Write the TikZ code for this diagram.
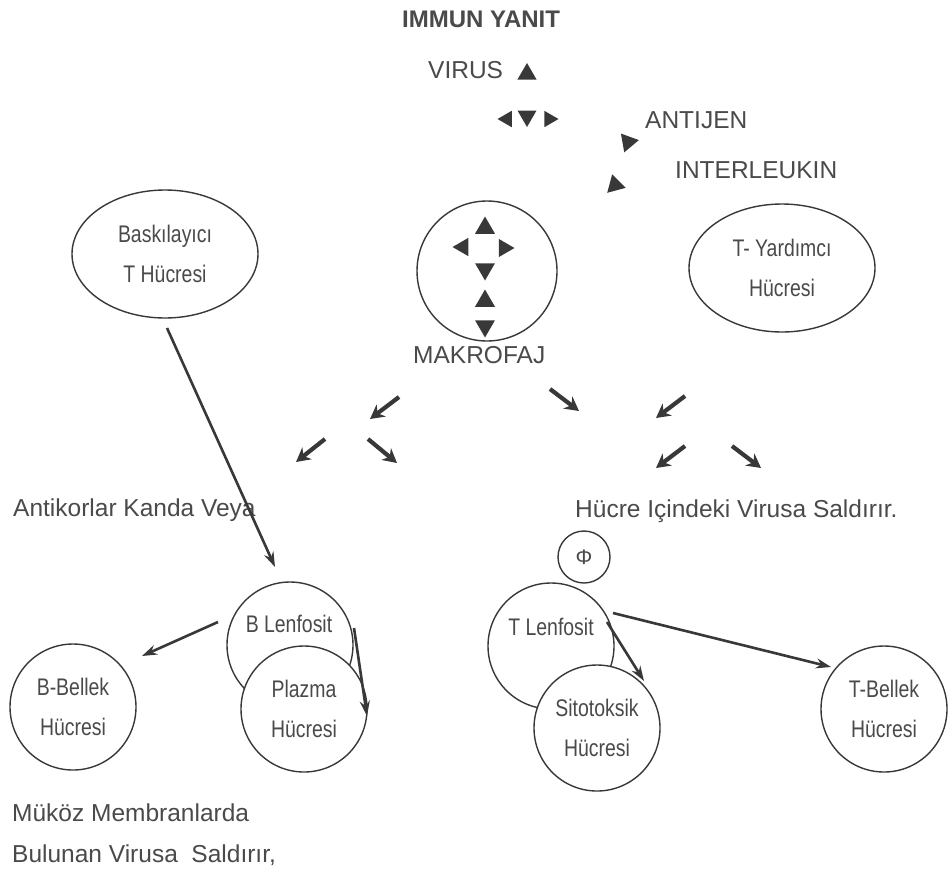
\documentclass[tikz,border=0pt]{standalone}
\usepackage{fontspec}
\setmainfont{Liberation Sans}
\newfontfamily\narrowfont[FakeStretch=0.81]{Liberation Sans}
\usetikzlibrary{shapes.geometric,arrows.meta}
\definecolor{ink}{HTML}{383838}
\definecolor{txt}{HTML}{4A4A4A}
\begin{document}
\begin{tikzpicture}[x=1pt,y=-1pt,
  lbl/.style={text=txt,font=\fontsize{24.5}{28}\selectfont,inner sep=0pt,anchor=base west},
  cell/.style={circle,draw=ink,line width=1.4pt,fill=white,minimum size=126pt,inner sep=0pt,
    text=txt,align=center,font=\narrowfont\fontsize{24}{40}\selectfont},
  oval/.style={ellipse,draw=ink,line width=1.4pt,minimum width=186pt,minimum height=128pt,inner sep=0pt,
    text=txt,align=center,font=\narrowfont\fontsize{24}{40}\selectfont},
  intext/.style={text=txt,inner sep=0pt,font=\narrowfont\fontsize{24}{26}\selectfont},
  tri/.style={regular polygon,regular polygon sides=3,fill=ink,minimum size=22pt,inner sep=0pt},
  sarrow/.style={draw=ink,line width=4.2pt,-{Stealth[length=14pt,width=15pt]}},
  larrow/.style={draw=ink,line width=2.6pt,-{Stealth[length=15pt,width=10pt]}}]
\useasboundingbox[fill=white] (0,0) rectangle (952,881);

% top labels
\node[lbl,font=\bfseries\fontsize{24}{28}\selectfont] (title) at (402,27) {IMMUN YANIT};
\node[lbl] (virus) at (428,78) {VIRUS};
\node[lbl] (antijen) at (645,128) {ANTIJEN};
\node[lbl] (interl) at (675,178) {INTERLEUKIN};

% top triangles
\node[tri] (t1) at (527,74) {};
\node[tri,minimum size=19pt,regular polygon rotate=90] (t2) at (507,119) {};
\node[tri,minimum size=22pt,regular polygon rotate=180] (t3) at (527,116) {};
\node[tri,minimum size=19pt,regular polygon rotate=-90] (t4) at (549,119) {};
\node[tri,regular polygon rotate=160] (t5) at (628,142) {};
\node[tri,regular polygon rotate=-105] (t6) at (615,185) {};

% ellipses
\node[oval] (bask) at (165,254) {Baskılayıcı\\T Hücresi};
\node[oval] (tyard) at (782,268) {T- Yardımcı\\Hücresi};

% makrofaj
\node[circle,draw=ink,line width=1.4pt,minimum size=140pt,inner sep=0pt] (makro) at (487,271) {};
\node[tri,minimum size=23pt] (m1) at (485,228) {};
\node[tri,minimum size=21pt,regular polygon rotate=90] (m2) at (463,247) {};
\node[tri,minimum size=21pt,regular polygon rotate=-90] (m3) at (504,248) {};
\node[tri,minimum size=23pt,regular polygon rotate=180] (m4) at (485,269) {};
\node[tri,minimum size=23pt] (m5) at (485,301) {};
\node[tri,minimum size=23pt,regular polygon rotate=180] (m6) at (485,326) {};
\node[lbl] (makrolbl) at (413,363) {MAKROFAJ};

% short arrows
\coordinate (s1a) at (399,397); \coordinate (s1b) at (370,419);
\coordinate (s2a) at (325,439); \coordinate (s2b) at (296,462);
\coordinate (s3a) at (368,439); \coordinate (s3b) at (397,463);
\coordinate (s4a) at (550,389); \coordinate (s4b) at (579,411);
\coordinate (s5a) at (685,396); \coordinate (s5b) at (656,418);
\coordinate (s6a) at (685,446); \coordinate (s6b) at (656,468);
\coordinate (s7a) at (732,446); \coordinate (s7b) at (761,468);
\draw[sarrow] (s1a) -- (s1b);
\draw[sarrow] (s2a) -- (s2b);
\draw[sarrow] (s3a) -- (s3b);
\draw[sarrow] (s4a) -- (s4b);
\draw[sarrow] (s5a) -- (s5b);
\draw[sarrow] (s6a) -- (s6b);
\draw[sarrow] (s7a) -- (s7b);

% mid labels
\node[lbl] (antikor) at (13,516) {Antikorlar Kanda Veya};
\node[lbl] (hucre) at (575,517) {Hücre Içindeki Virusa Saldırır.};

% B side
\node[cell] (blenf) at (290,645) {};
\node[intext] (blenftxt) at (289,624) {B Lenfosit};
\node[cell] (plazma) at (304,709) {Plazma\\Hücresi};
\node[cell] (bbellek) at (73,707) {B-Bellek\\Hücresi};

% T side
\node[circle,draw=ink,line width=1.4pt,minimum size=52pt,inner sep=0pt,text=txt,font=\fontsize{21}{24}\selectfont] (phi) at (584,557) {Φ};
\node[cell] (tlenf) at (551,646) {};
\node[intext] (tlenftxt) at (551,627) {T Lenfosit};
\node[cell] (sito) at (597,728) {Sitotoksik\\Hücresi};
\node[cell] (tbellek) at (884,709) {T-Bellek\\Hücresi};

% long arrows
\coordinate (baskout) at (167,328);
\coordinate (blenfin) at (275,567);
\draw[larrow] (baskout) -- (blenfin);
\coordinate (bl1) at (218,622); \coordinate (bb1) at (142,656);
\draw[larrow] (bl1) -- (bb1);
\coordinate (bl2) at (354,628); \coordinate (pl1) at (367,716);
\draw[larrow] (bl2) -- (pl1);
\coordinate (tl1) at (607,622); \coordinate (si1) at (644,681);
\draw[larrow] (tl1) -- (si1);
\coordinate (tl2) at (613,613); \coordinate (tb1) at (831,667);
\draw[larrow] (tl2) -- (tb1);

% bottom labels
\node[lbl] (mukoz) at (12,821) {Müköz Membranlarda};
\node[lbl] (bulunan) at (12,862) {Bulunan Virusa\ \ Saldırır,};
\end{tikzpicture}
\end{document}
